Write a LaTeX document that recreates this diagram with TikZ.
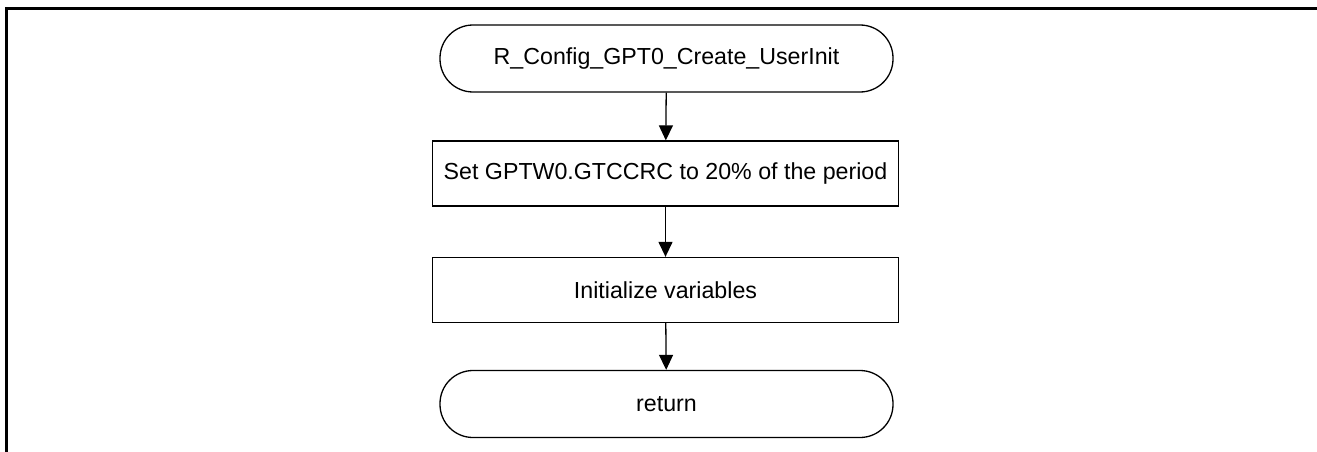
\documentclass[tikz,border=0pt]{standalone}
\usepackage{fontspec}
\setmainfont{Liberation Sans}
\usetikzlibrary{arrows.meta}
\begin{document}
\begin{tikzpicture}[x=1pt,y=-1pt,
  lbl/.style={font=\fontsize{23.2}{26}\selectfont},
  term/.style={draw, line width=1.3pt, rounded corners=33pt, minimum width=453pt, minimum height=67pt, inner sep=0pt, lbl},
  proc/.style={draw, line width=1.3pt, minimum width=466pt, minimum height=65pt, inner sep=0pt, lbl},
  flow/.style={line width=1.3pt, -{Triangle[width=14pt,length=15pt]}},
  frame/.style={line width=2.4pt}]
\useasboundingbox (0,0) rectangle (1317,452);
\draw[frame] (6.5,452) -- (6.5,8.5) -- (1317,8.5);
\node[term] (start) at (666.5,58.5) {R\_Config\_GPT0\_Create\_UserInit};
\node[proc] (set) at (665.5,173.5) {Set GPTW0.GTCCRC to 20\% of the period};
\node[proc] (init) at (665.5,290) {Initialize variables};
\node[term] (ret) at (666.5,404) {return};
\draw[flow] (start) -- (set);
\draw[flow] (set) -- (init);
\draw[flow] (init) -- (ret);
\end{tikzpicture}
\end{document}
